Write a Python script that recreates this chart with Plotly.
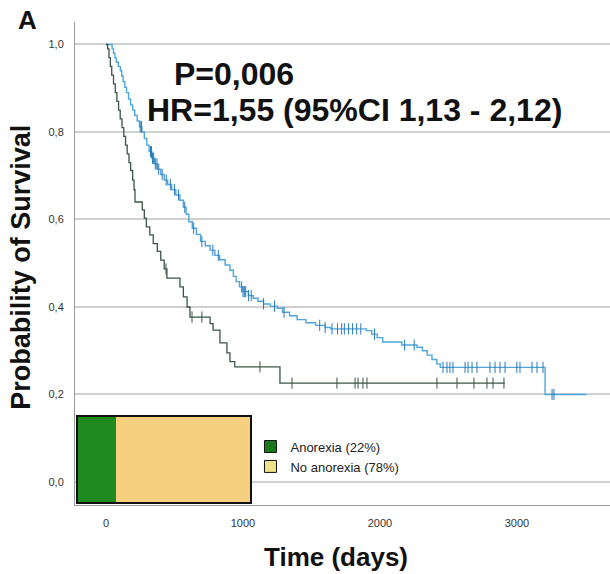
import numpy as np
import plotly.graph_objects as go

# ---- Data ----
# No anorexia group: Kaplan-Meier step times (days) and survival
time_no = [0, 45, 55, 65, 75, 90, 105, 115, 125, 138, 150, 165, 180, 195, 210, 228, 245, 262, 280,
           298, 315, 335, 355, 375, 400, 425, 450, 480, 510, 540, 565, 585, 605, 630, 660, 690,
           725, 760, 795, 830, 870, 905, 930, 950, 975, 1000, 1040, 1075, 1110, 1150, 1200, 1250,
           1290, 1340, 1395, 1460, 1530, 1600, 1640, 1900, 1940, 1980, 2020, 2160, 2270, 2310,
           2345, 2380, 2415, 2440, 3205]
surv_no = [1.000, 0.990, 0.980, 0.970, 0.960, 0.950, 0.940, 0.928, 0.915, 0.902, 0.890, 0.875,
           0.862, 0.850, 0.838, 0.825, 0.812, 0.800, 0.785, 0.770, 0.755, 0.740, 0.727, 0.715,
           0.703, 0.690, 0.680, 0.668, 0.656, 0.644, 0.628, 0.612, 0.595, 0.580, 0.566, 0.550,
           0.540, 0.530, 0.518, 0.508, 0.496, 0.484, 0.470, 0.458, 0.446, 0.435, 0.426, 0.420,
           0.413, 0.407, 0.402, 0.397, 0.388, 0.380, 0.371, 0.364, 0.358, 0.353, 0.350, 0.346,
           0.338, 0.330, 0.320, 0.313, 0.308, 0.300, 0.290, 0.280, 0.270, 0.262, 0.200]
cens_no = [250, 260, 325, 332, 340, 348, 360, 372, 385, 410, 440, 470, 500, 530, 575, 640, 700,
           780, 820, 990, 1000, 1010, 1020, 1040, 1060, 1150, 1230, 1300, 1560, 1600, 1650, 1690,
           1720, 1740, 1770, 1800, 1830, 1860, 1960, 2180, 2250, 2460, 2489, 2511, 2533, 2621,
           2643, 2672, 2708, 2803, 2840, 2876, 2913, 2999, 3022, 3110, 3146, 3190, 3256, 3270]
end_no = 3510

# Anorexia group
time_an = [0, 12, 22, 32, 42, 55, 68, 80, 92, 104, 117, 130, 143, 155, 168, 180, 195, 205, 212,
           265, 280, 295, 320, 345, 375, 400, 425, 445, 540, 565, 592, 613, 760, 782, 832, 883,
           905, 940, 1270]
surv_an = [1.000, 0.990, 0.970, 0.950, 0.930, 0.910, 0.890, 0.870, 0.850, 0.830, 0.810, 0.790,
           0.770, 0.750, 0.730, 0.712, 0.690, 0.668, 0.640, 0.622, 0.603, 0.583, 0.565, 0.545,
           0.527, 0.507, 0.487, 0.466, 0.446, 0.423, 0.400, 0.377, 0.362, 0.347, 0.318, 0.295,
           0.275, 0.263, 0.226]
cens_an = [438, 628, 700, 1124, 1358, 1686, 1818, 1840, 1876, 1905, 2416, 2562, 2686, 2781, 2825, 2905]
end_an = 2910

groups = ["Anorexia (22%)", "No anorexia (78%)"]
pct = [22, 78]

x_ticks = [0, 1000, 2000, 3000]
y_ticks = [0.0, 0.2, 0.4, 0.6, 0.8, 1.0]
y_tick_text = ["0,0", "0,2", "0,4", "0,6", "0,8", "1,0"]

# ---- Styles ----
C_NO = "#4ea6dc"
C_NO_C = "#2b7bb9"
C_AN = "#3b5546"
C_GREEN = "#1f8a1f"
C_YELLOW = "#f6d07e"
FONT = "Liberation Sans, Arial, sans-serif"


def step_value(times, survs, t):
    idx = np.searchsorted(np.array(times), np.array(t), side="right") - 1
    return list(np.array(survs)[idx])


fig = go.Figure()

# KM curves
fig.add_trace(go.Scatter(x=time_no + [end_no], y=surv_no + [surv_no[-1]], mode="lines",
                         line=dict(color=C_NO, width=1.4, shape="hv"), showlegend=False,
                         hoverinfo="skip"))
fig.add_trace(go.Scatter(x=time_an + [end_an], y=surv_an + [surv_an[-1]], mode="lines",
                         line=dict(color=C_AN, width=1.3, shape="hv"), showlegend=False,
                         hoverinfo="skip"))
# Censor marks
fig.add_trace(go.Scatter(x=cens_no, y=step_value(time_no, surv_no, cens_no), mode="markers",
                         marker=dict(symbol="line-ns", size=8, line=dict(color=C_NO_C, width=1)),
                         showlegend=False, hoverinfo="skip"))
fig.add_trace(go.Scatter(x=cens_an, y=step_value(time_an, surv_an, cens_an), mode="markers",
                         marker=dict(symbol="line-ns", size=8, line=dict(color=C_AN, width=1)),
                         showlegend=False, hoverinfo="skip"))

# Inset proportion bar
colors = [C_GREEN, C_YELLOW]
for g, p, c in zip(groups, pct, colors):
    fig.add_trace(go.Bar(x=[p], y=["g"], orientation="h", marker=dict(color=c, line=dict(width=0)),
                         xaxis="x2", yaxis="y2", showlegend=False, hoverinfo="skip"))
# legend entries
legend_colors = ["#1a7a1a", "#efe08c"]
for g, c in zip(groups, legend_colors):
    fig.add_trace(go.Bar(x=[None], y=[None], orientation="h", name=g,
                         marker=dict(color=c, line=dict(color="#111", width=1)),
                         xaxis="x2", yaxis="y2", showlegend=True))

fig.update_layout(
    width=610, height=574,
    margin=dict(l=75, r=0, t=22, b=69),
    paper_bgcolor="white", plot_bgcolor="white",
    barmode="stack", bargap=0,
    font=dict(family=FONT, color="#333"),
    xaxis=dict(range=[-226, 3679], tickvals=x_ticks, showgrid=False, zeroline=False,
               showline=True, linecolor="#9a9a9a", linewidth=1, ticks="",
               tickfont=dict(size=11, color="#333"), ticklabelstandoff=8),
    yaxis=dict(range=[-0.0526, 1.0514], tickvals=y_ticks, ticktext=y_tick_text,
               showgrid=True, gridcolor="#d0d0d0", gridwidth=1.5, zeroline=False,
               showline=True, linecolor="#9a9a9a", linewidth=1, ticks="",
               tickfont=dict(size=11, color="#333"), ticklabelstandoff=8),
    xaxis2=dict(domain=[0.0056, 0.327], anchor="y2", range=[0, 100], showgrid=False,
                zeroline=False, showticklabels=False, showline=True, mirror=True,
                linecolor="#111", linewidth=1.5, ticks=""),
    yaxis2=dict(domain=[0.0062, 0.182], anchor="x2", showgrid=False, zeroline=False,
                showticklabels=False, showline=True, mirror=True, linecolor="#111",
                linewidth=1.5, ticks=""),
    legend=dict(x=0.328, y=0.152, xanchor="left", yanchor="top", bgcolor="rgba(0,0,0,0)",
                font=dict(size=13, color="#222", family=FONT), tracegroupgap=0,
                traceorder="normal", itemwidth=30),
    annotations=[
        dict(text="<b>A</b>", x=-0.088, y=1.004, xref="paper", yref="paper", showarrow=False,
             font=dict(size=26, color="#111"), xanchor="center", yanchor="middle"),
        dict(text="<b>P=0,006</b>", x=0.181, y=0.892, xref="paper", yref="paper",
             showarrow=False, font=dict(size=32, color="#111"), xanchor="left", yanchor="middle"),
        dict(text="<b>HR=1,55 (95%CI 1,13 - 2,12)</b>", x=0.131, y=0.818, xref="paper",
             yref="paper", showarrow=False, font=dict(size=32, color="#111"),
             xanchor="left", yanchor="middle"),
        dict(text="<b>Probability of Survival</b>", x=-0.101, y=0.493, xref="paper",
             yref="paper", showarrow=False, textangle=-90, font=dict(size=27, color="#111"),
             xanchor="center", yanchor="middle"),
        dict(text="<b>Time (days)</b>", x=0.488, y=-0.108, xref="paper", yref="paper",
             showarrow=False, font=dict(size=26, color="#111"), xanchor="center",
             yanchor="middle"),
    ],
)

fig.write_html("out.html", config={"displayModeBar": False},
               post_script="document.body.style.margin='0';document.body.style.overflow='hidden';")
